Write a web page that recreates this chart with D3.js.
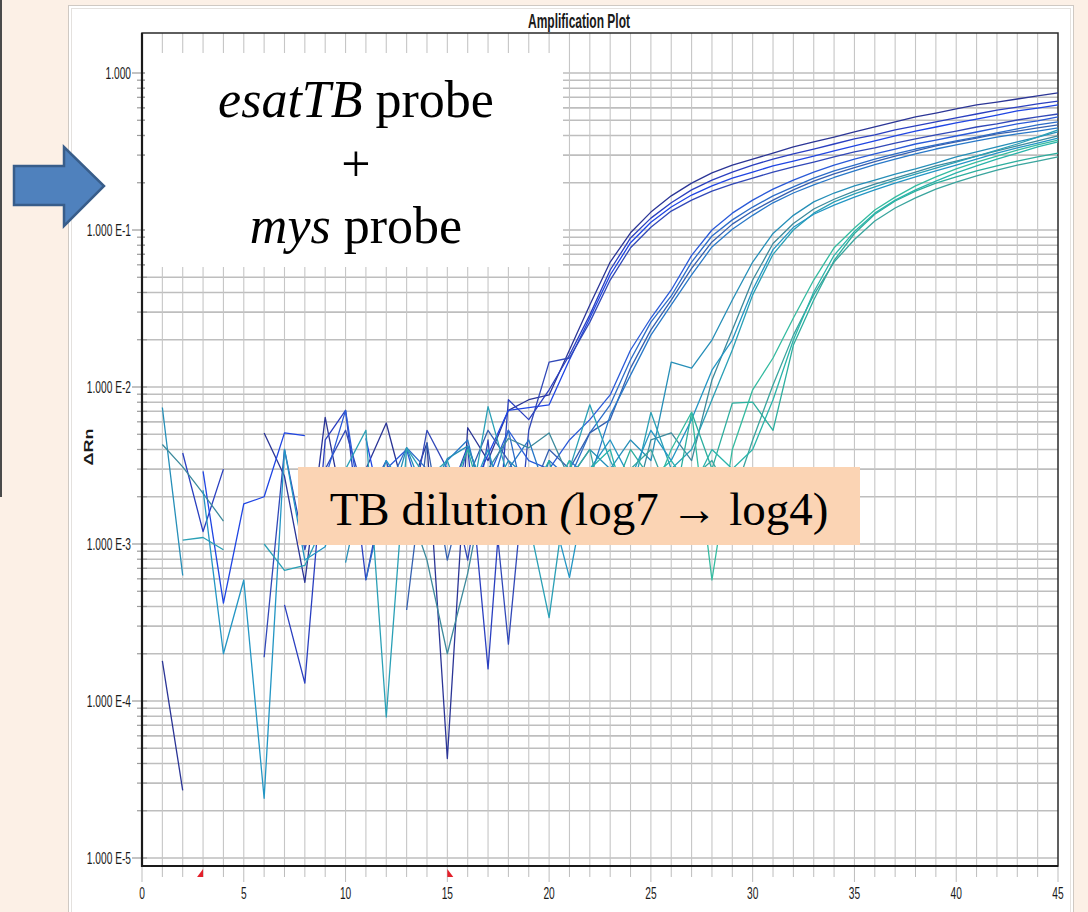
<!DOCTYPE html>
<meta charset="utf-8">
<script src="https://cdn.jsdelivr.net/npm/d3@7/dist/d3.min.js"></script>
<style>
body { margin:0; background:#fcf0e6; }
svg { display:block; }
</style>
<body>
<script>
// delta Rn per cycle (1..45), null where the trace drops out of the log axis
var log7_1 = [1.8e-4, 2.7e-5, null, null, null, 5.1e-3, 2.7e-3, 5.7e-4, 6.4e-3, 1.4e-3,
              3.0e-3, 5.9e-3, 1.9e-3, 4.4e-3, 4.3e-5, 5.5e-3, 3.4e-3, 7.1e-3, 8.3e-3, 8.9e-3,
              0.0172, 0.0333, 0.0625, 0.096, 0.130, 0.165, 0.199, 0.231, 0.259, 0.283,
              0.309, 0.338, 0.364, 0.391, 0.421, 0.453, 0.488, 0.525, 0.556, 0.590,
              0.626, 0.653, 0.683, 0.714, 0.746];
var log7_2 = [null, 3.8e-3, 1.2e-3, 3.0e-3, null, null, 4.1e-4, 1.3e-4, 4.6e-3, 7.1e-3,
              5.9e-4, 2.6e-3, 1.2e-3, 3.0e-3, 1.9e-3, 4.2e-3, 1.6e-4, 8.3e-3, 6.2e-3, 9.6e-3,
              0.0160, 0.0288, 0.0556, 0.089, 0.119, 0.149, 0.180, 0.208, 0.234, 0.259,
              0.283, 0.305, 0.328, 0.353, 0.380, 0.403, 0.434, 0.460, 0.488, 0.517,
              0.548, 0.581, 0.607, 0.635, 0.663];
var log7_3 = [null, null, 2.9e-3, 4.2e-4, 1.8e-3, 2.0e-3, 5.1e-3, 4.9e-3, null, null,
              4.7e-3, 1.2e-3, 3.0e-3, 1.4e-3, 2.6e-3, 1.9e-3, 3.7e-3, 7.1e-3, 7.4e-3, 7.7e-3,
              0.0149, 0.0275, 0.0517, 0.083, 0.112, 0.140, 0.167, 0.191, 0.214, 0.234,
              0.256, 0.275, 0.296, 0.319, 0.343, 0.369, 0.397, 0.427, 0.453, 0.481,
              0.509, 0.540, 0.573, 0.598, 0.626];
var log7_4 = [null, null, null, null, null, 1.9e-4, 4.0e-3, 9.2e-4, 3.0e-3, 5.3e-3,
              1.9e-3, 3.4e-3, 1.06e-3, 5.3e-3, 3.0e-3, 7.9e-4, 4.6e-3, 2.3e-4, 5.3e-3, 0.0144,
              0.0153, 0.0259, 0.048, 0.077, 0.104, 0.132, 0.155, 0.177, 0.196, 0.214,
              0.234, 0.252, 0.271, 0.292, 0.314, 0.333, 0.358, 0.380, 0.403, 0.427,
              0.453, 0.474, 0.502, 0.525, 0.548];

var log6_1 = [null, null, null, null, null, null, null, null, 2.6e-3, 7.1e-3,
              1.06e-3, 3.0e-3, 4.0e-3, 1.4e-3, 3.0e-3, 1.9e-3, 2.6e-3, 5.3e-3, 3.4e-3, 3.0e-3,
              4.6e-3, 6.2e-3, 0.0089, 0.0172, 0.0275, 0.0415, 0.069, 0.100, 0.128, 0.155,
              0.182, 0.208, 0.234, 0.259, 0.283, 0.305, 0.328, 0.353, 0.374, 0.397,
              0.421, 0.447, 0.474, 0.495, 0.525];
var log6_2 = [null, null, null, null, null, null, null, null, null, null,
              5.9e-4, 2.2e-3, 4.1e-3, 3.0e-3, 1.2e-3, 4.2e-3, 1.9e-3, 5.3e-3, 1.4e-3, 3.4e-3,
              2.6e-3, 5.1e-3, 0.0077, 0.0149, 0.0259, 0.038, 0.0625, 0.0916, 0.116, 0.140,
              0.165, 0.188, 0.214, 0.238, 0.259, 0.283, 0.305, 0.328, 0.348, 0.369,
              0.391, 0.415, 0.440, 0.467, 0.488];
var log6_3 = [null, null, null, null, null, null, null, null, null, null,
              null, null, 3.8e-4, 4.4e-3, 7.9e-4, 2.6e-3, 5.3e-3, 3.4e-3, 1.9e-3, 4.0e-3,
              3.0e-3, 5.1e-3, 0.0062, 0.0132, 0.0231, 0.0358, 0.057, 0.084, 0.109, 0.132,
              0.155, 0.180, 0.205, 0.228, 0.250, 0.273, 0.296, 0.319, 0.343, 0.364,
              0.385, 0.409, 0.427, 0.447, 0.467];
var log6_4 = [null, null, null, null, null, null, null, null, null, null,
              null, null, null, 1.4e-3, 3.4e-3, 4.6e-3, 1.4e-3, 3.0e-3, 4.6e-3, 1.9e-3,
              3.4e-3, 2.6e-3, 0.0066, 0.0119, 0.0214, 0.0333, 0.0517, 0.078, 0.101, 0.124,
              0.149, 0.172, 0.194, 0.216, 0.238, 0.261, 0.283, 0.305, 0.328, 0.348,
              0.369, 0.391, 0.409, 0.427, 0.447];

var log5_1 = [7.4e-3, 6.3e-4, null, null, null, null, null, null, null, 7.6e-4,
              3.0e-3, 1.4e-3, 4.1e-3, 1.9e-3, 3.5e-3, 4.2e-3, 1.9e-3, 3.4e-3, 2.6e-3, 1.4e-3,
              2.6e-3, 4.0e-3, 3.0e-3, 4.6e-3, 3.4e-3, 0.0144, 0.0132, 0.0199, 0.0358, 0.0625,
              0.095, 0.124, 0.151, 0.172, 0.191, 0.208, 0.227, 0.245, 0.267, 0.292,
              0.314, 0.338, 0.364, 0.391, 0.421];
var log5_2 = [4.3e-3, 3.1e-3, 2.1e-3, 1.4e-3, null, null, null, null, null, null,
              null, null, 1.9e-3, 7.9e-4, 2.0e-4, 6.5e-4, 3.0e-3, 4.7e-3, 4.1e-3, 5.1e-3,
              2.6e-3, 1.6e-3, 3.0e-3, 1.4e-3, 4.6e-3, 5.1e-3, 3.4e-3, 0.0111, 0.0231, 0.048,
              0.082, 0.110, 0.136, 0.157, 0.177, 0.196, 0.214, 0.234, 0.256, 0.275,
              0.296, 0.319, 0.343, 0.369, 0.397];
var log5_3 = [null, 1.06e-3, 1.1e-3, 9.2e-4, null, 1.0e-3, 6.8e-4, 7.3e-4, 1.4e-3, 3.0e-3,
              5.3e-3, 7.9e-5, 4.1e-3, 2.6e-3, 3.4e-3, 1.4e-3, 7.5e-3, 2.6e-3, 1.4e-3, 3.4e-4,
              3.0e-3, 7.7e-3, 3.4e-3, 1.9e-3, 6.9e-3, 3.0e-3, 4.0e-3, 8.3e-3, 0.0172, 0.0386,
              0.070, 0.100, 0.128, 0.151, 0.170, 0.188, 0.208, 0.227, 0.248, 0.271,
              0.296, 0.323, 0.353, 0.391, 0.434];
var log5_4 = [null, null, 2.2e-3, 2.0e-4, 5.9e-4, 2.4e-5, 4.0e-3, 7.9e-4, 9.6e-4, 2.6e-3,
              1.4e-3, 3.4e-3, 2.2e-3, 1.2e-3, 3.0e-3, 1.9e-3, 4.0e-3, 1.4e-3, 3.0e-3, 1.9e-3,
              6.1e-4, 3.0e-3, 4.6e-3, 2.6e-3, 5.3e-3, 3.4e-3, 6.2e-3, 0.0128, 0.0199, 0.0415,
              0.075, 0.104, 0.126, 0.144, 0.162, 0.180, 0.199, 0.218, 0.238, 0.259,
              0.283, 0.309, 0.333, 0.358, 0.385];

var log4_1 = [null, null, null, null, null, null, null, null, null, null,
              null, null, null, 3.0e-3, 1.9e-3, 4.0e-3, 1.4e-3, 3.0e-3, 1.9e-3, 3.4e-3,
              1.06e-3, 2.6e-3, 1.9e-3, 4.0e-3, 2.6e-3, 1.4e-3, 6.9e-3, 3.0e-3, 7.9e-3, 8.0e-3,
              5.3e-3, 0.0185, 0.0358, 0.064, 0.095, 0.126, 0.153, 0.177, 0.199, 0.218,
              0.238, 0.256, 0.275, 0.292, 0.309];
var log4_2 = [null, null, null, null, null, null, null, null, null, null,
              null, null, null, null, null, null, 1.9e-3, 1.06e-3, 2.6e-3, 1.9e-3,
              3.4e-3, 1.4e-3, 2.6e-3, 3.0e-3, 1.9e-3, 4.0e-3, 6.9e-3, 5.9e-4, 4.0e-3, 9.6e-3,
              0.0153, 0.0275, 0.048, 0.077, 0.103, 0.134, 0.162, 0.191, 0.218, 0.245,
              0.271, 0.296, 0.323, 0.348, 0.374];
var log4_3 = [null, null, null, null, null, null, null, null, null, null,
              null, null, null, null, null, null, null, null, 3.0e-3, 1.4e-3,
              2.6e-3, 4.0e-3, 1.06e-3, 3.0e-3, 4.0e-3, 1.9e-3, 2.6e-3, 3.4e-3, 1.9e-3, 4.6e-3,
              0.0103, 0.0214, 0.0386, 0.0625, 0.087, 0.114, 0.138, 0.160, 0.182, 0.202,
              0.221, 0.241, 0.259, 0.275, 0.292];
var log4_4 = [null, null, null, null, null, null, null, null, null, null,
              null, null, null, null, null, null, null, null, null, null,
              1.9e-3, 3.0e-3, 4.0e-3, 1.4e-3, 2.6e-3, 3.4e-3, 2.2e-3, 4.0e-3, 3.0e-3, 4.0e-3,
              8.3e-3, 0.0199, 0.0403, 0.069, 0.098, 0.128, 0.155, 0.180, 0.205, 0.231,
              0.256, 0.283, 0.309, 0.338, 0.364];

var series = [log7_1, log7_2, log7_3, log7_4, log6_1, log6_2, log6_3, log6_4,
              log5_1, log5_2, log5_3, log5_4, log4_1, log4_2, log4_3, log4_4];
var curveColors = ["#2b3596", "#2a3fc0", "#1f45e3", "#3148b8",
                   "#2a5ad8", "#2c6cc8", "#3560b0", "#2878c8",
                   "#268fb8", "#3d8a9c", "#2aa0b6", "#2396c4",
                   "#2cae9e", "#34bba0", "#3aa59e", "#2ab4aa"];

var xTickLabels = [0, 5, 10, 15, 20, 25, 30, 35, 40, 45];
var yTickValues = [1, 1e-1, 1e-2, 1e-3, 1e-4, 1e-5];
var yTickLabels = ["1.000", "1.000 E-1", "1.000 E-2", "1.000 E-3", "1.000 E-4", "1.000 E-5"];
var baselineStart = 3, baselineEnd = 15;

var W = 1088, H = 912;
var m = {left:142, right:1058, top:33, bottom:866};
var sq = 0.6;   // the software screenshot is squeezed sideways

var svg = d3.select("body").append("svg").attr("width", W).attr("height", H);

var x = d3.scaleLinear().domain([0, 45]).range([m.left, m.right]);
var y = d3.scaleLog().domain([1e-5, 1]).range([858, 73]);

// slide background + screenshot panel
svg.append("rect").attr("width", W).attr("height", H).attr("fill", "#fcf0e6");
svg.append("line").attr("x1", 1).attr("x2", 1).attr("y1", 0).attr("y2", 497)
   .attr("stroke", "#4a4a4a").attr("stroke-width", 2);
svg.append("rect").attr("x", 68.5).attr("y", 5.5).attr("width", 1005).attr("height", 912)
   .attr("fill", "#fff").attr("stroke", "#cfc9c3");
svg.append("rect").attr("x", 71.5).attr("y", 8.5).attr("width", 999).attr("height", 910)
   .attr("fill", "none").attr("stroke", "#e4e1de");

function sqText(g, tx, ty, str, anchor, size, weight) {
  return g.append("text")
    .attr("transform", "translate(" + tx + "," + ty + ") scale(" + sq + ",1)")
    .attr("text-anchor", anchor)
    .style("font-family", "'Liberation Sans', Arial, sans-serif")
    .style("font-size", size + "px")
    .style("font-weight", weight || "normal")
    .attr("fill", "#1a1a1a")
    .text(str);
}

// grid
var grid = svg.append("g");
grid.selectAll("line.h").data(y.ticks()).enter().append("line")
  .attr("x1", m.left).attr("x2", m.right)
  .attr("y1", function(d){ return y(d); }).attr("y2", function(d){ return y(d); })
  .attr("stroke", "#bebebe").attr("stroke-width", 1.6);
grid.selectAll("line.v").data(d3.range(1, 45)).enter().append("line")
  .attr("x1", function(d){ return x(d); }).attr("x2", function(d){ return x(d); })
  .attr("y1", m.top).attr("y2", m.bottom)
  .attr("stroke", "#c6c6c6").attr("stroke-width", 1.1);

// x ticks under the axis
grid.selectAll("line.xt").data(d3.range(0, 46)).enter().append("line")
  .attr("x1", function(d){ return x(d); }).attr("x2", function(d){ return x(d); })
  .attr("y1", m.bottom).attr("y2", function(d){ return d % 5 == 0 ? m.bottom + 16 : m.bottom + 11; })
  .attr("stroke", "#bdbdbd").attr("stroke-width", 1);

// y ticks left of the axis
grid.selectAll("line.yt").data(y.ticks()).enter().append("line")
  .attr("x1", function(d){ return yTickValues.indexOf(d) >= 0 ? m.left - 10 : m.left - 5; })
  .attr("x2", m.left + 5)
  .attr("y1", function(d){ return y(d); }).attr("y2", function(d){ return y(d); })
  .attr("stroke", "#9a9a9a").attr("stroke-width", 1.2);

// annotation box over the top-left of the plot
svg.append("rect").attr("x", 145).attr("y", 53).attr("width", 418).attr("height", 214).attr("fill", "#fff");

// frame
svg.append("rect").attr("x", m.left).attr("y", m.top)
  .attr("width", m.right - m.left).attr("height", m.bottom - m.top)
  .attr("fill", "none").attr("stroke", "#2a2a2a").attr("stroke-width", 1.5);
svg.append("path").attr("d", "M" + m.left + "," + m.top + "V" + m.bottom + "H" + m.right)
  .attr("fill", "none").attr("stroke", "#1a1a1a").attr("stroke-width", 2.2);

// curves
var line = d3.line()
  .defined(function(d){ return d != null && d > 0; })
  .x(function(d, i){ return x(i + 1); })
  .y(function(d){ return y(d); });
svg.append("g").selectAll("path").data(series).enter().append("path")
  .attr("d", line)
  .attr("fill", "none")
  .attr("stroke", function(d, i){ return curveColors[i]; })
  .attr("stroke-width", 1.3)
  .attr("stroke-linejoin", "round");

// baseline start / end markers
svg.append("path")
  .attr("d", "M" + (x(baselineStart) - 6) + "," + (m.bottom + 11) + "L" + x(baselineStart) + "," + (m.bottom + 11) + "L" + x(baselineStart) + "," + (m.bottom + 3) + "Z")
  .attr("fill", "#e3202b");
svg.append("path")
  .attr("d", "M" + x(baselineEnd) + "," + (m.bottom + 3) + "L" + x(baselineEnd) + "," + (m.bottom + 11) + "L" + (x(baselineEnd) + 6) + "," + (m.bottom + 11) + "Z")
  .attr("fill", "#e3202b");

// axis labels
xTickLabels.forEach(function(t){ sqText(svg, x(t), 899, t, "middle", 17); });
yTickValues.forEach(function(v, i){ sqText(svg, 131, y(v) + 6, yTickLabels[i], "end", 17); });
sqText(svg, 579, 28, "Amplification Plot", "middle", 20, "bold");
svg.append("text")
  .attr("transform", "translate(93,447) rotate(-90) scale(1,0.72)")
  .attr("text-anchor", "middle")
  .style("font-family", "'Liberation Sans', Arial, sans-serif")
  .style("font-size", "18px").style("font-weight", "bold")
  .attr("fill", "#1a1a1a")
  .text("\u0394Rn");

// slide annotations
var serif = "'Liberation Serif', 'Times New Roman', serif";
var t1 = svg.append("text").attr("x", 356).attr("y", 117).attr("text-anchor", "middle")
  .style("font-family", serif).style("font-size", "52px").attr("fill", "#000");
t1.append("tspan").style("font-style", "italic").text("esatTB");
t1.append("tspan").text(" probe");
svg.append("text").attr("x", 356).attr("y", 181).attr("text-anchor", "middle")
  .style("font-family", serif).style("font-size", "52px").attr("fill", "#000").text("+");
var t2 = svg.append("text").attr("x", 356).attr("y", 243).attr("text-anchor", "middle")
  .style("font-family", serif).style("font-size", "52px").attr("fill", "#000");
t2.append("tspan").style("font-style", "italic").text("mys");
t2.append("tspan").text(" probe");

svg.append("rect").attr("x", 298).attr("y", 467).attr("width", 562).attr("height", 78).attr("fill", "#fbd4b4");
var t3 = svg.append("text").attr("x", 579).attr("y", 525).attr("text-anchor", "middle")
  .style("font-family", serif).style("font-size", "47px").attr("fill", "#000");
t3.append("tspan").text("TB dilution ");
t3.append("tspan").style("font-style", "italic").text("(");
t3.append("tspan").text("log7 \u2192 log4)");

// arrow
svg.append("path")
  .attr("d", "M14,166 L64,166 L64,147 L104,186 L64,226 L64,205 L14,205 Z")
  .attr("fill", "#4f81bd").attr("stroke", "#385d8a").attr("stroke-width", 2.5);
</script>
</body>
